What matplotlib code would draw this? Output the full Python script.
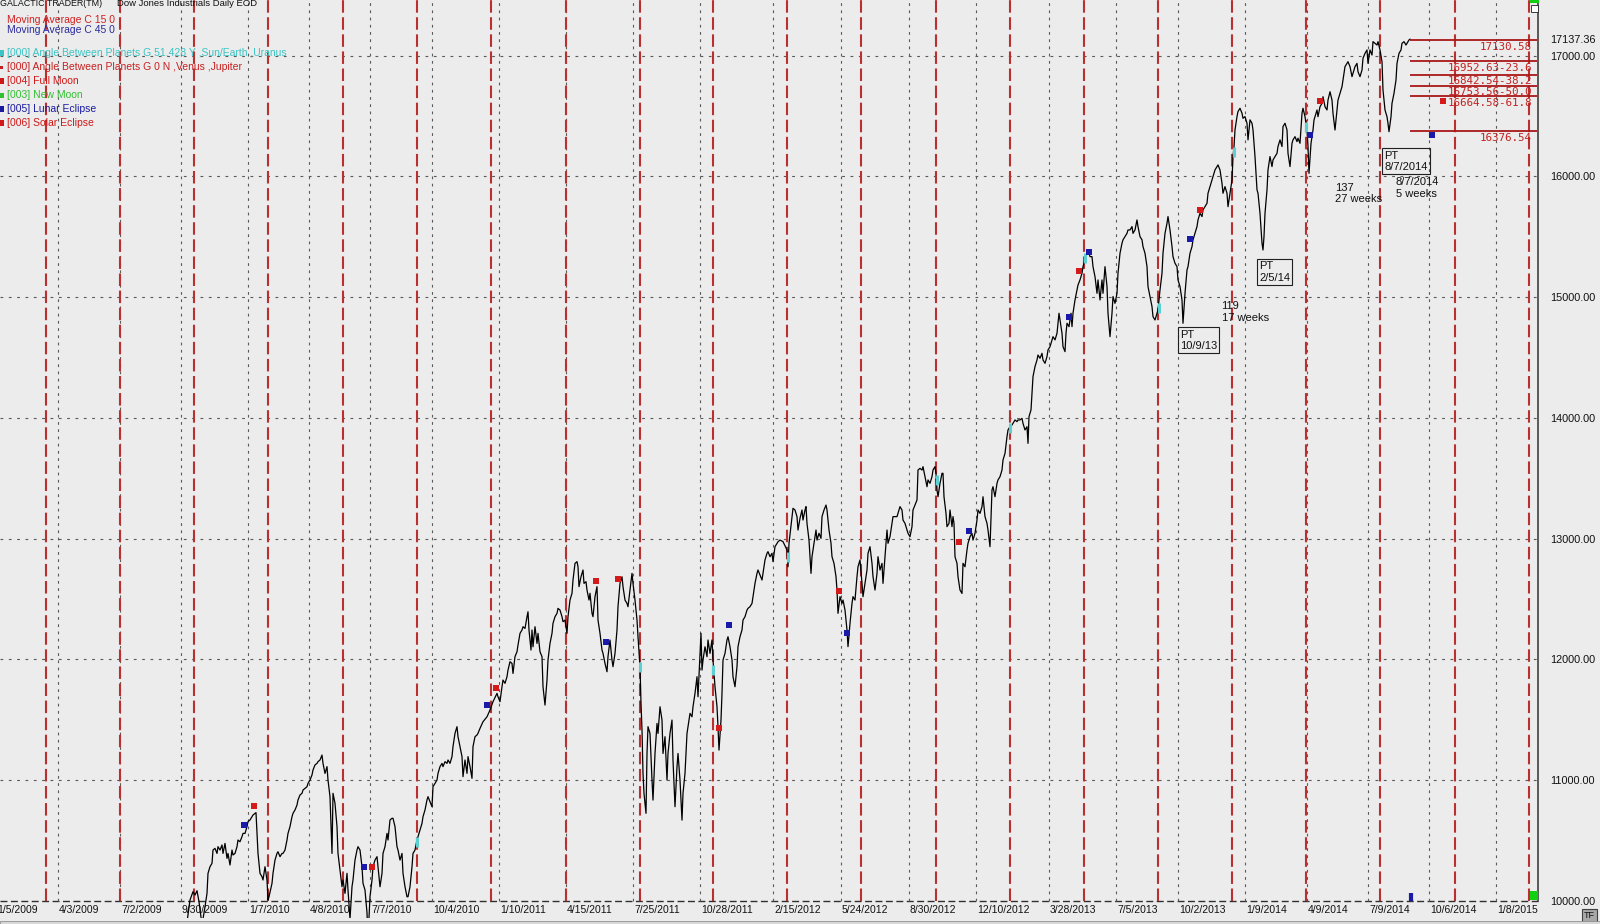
import matplotlib
matplotlib.use("Agg")
import matplotlib.pyplot as plt
from matplotlib.patches import Rectangle

plt.rcParams['font.family'] = ['Liberation Sans', 'DejaVu Sans']

W, H = 1600, 924
BG = '#ececec'

# daily closes, (bar, close)
closes_2009_2010 = [
    (185, 9700), (190, 10006), (193, 10075), (195, 10047), (197, 10083), (199, 9992), (202, 9800),
    (205, 9950), (207, 10061), (208, 10227), (210, 10282), (212, 10310), (213, 10420), (215, 10434),
    (217, 10392), (218, 10448), (220, 10420), (222, 10462), (223, 10392), (225, 10475), (227, 10351),
    (228, 10392), (230, 10296), (232, 10420), (233, 10379), (235, 10392), (237, 10448), (238, 10503),
    (240, 10489), (242, 10531), (243, 10558), (245, 10558), (247, 10614), (248, 10655), (250, 10669),
    (252, 10696), (253, 10710), (255, 10724), (256, 10730), (257, 10558), (258, 10392), (260, 10227),
    (262, 10199), (263, 10172), (265, 10282), (267, 10172), (268, 10006), (269, 10033), (272, 10144),
    (273, 10227), (275, 10337), (277, 10392), (278, 10406), (280, 10365), (282, 10392), (283, 10392),
    (285, 10420), (287, 10503), (288, 10558), (290, 10614), (292, 10696), (293, 10724), (295, 10752),
    (297, 10793), (298, 10835), (300, 10876), (302, 10890), (303, 10917), (305, 10931), (307, 10945),
    (308, 10972), (310, 11000), (312, 11042), (313, 11083), (315, 11125), (317, 11138), (318, 11152),
    (320, 11166), (322, 11207), (323, 11138), (325, 11055), (327, 11111), (328, 11000), (330, 10862),
    (332, 10392), (333, 10890), (335, 10807), (337, 10614), (338, 10392), (340, 10254), (342, 10116),
    (343, 10172), (345, 10061), (347, 10227), (348, 10089), (350, 9850), (352, 10116), (353, 10172),
    (355, 10337), (357, 10420), (358, 10448), (360, 10420), (362, 10282), (363, 10144), (365, 10089),
    (367, 9900), (368, 9690), (370, 10033), (372, 10172), (373, 10282), (375, 10337), (377, 10365),
    (378, 10282), (380, 10116), (382, 10227), (383, 10392), (385, 10448), (387, 10558), (388, 10503),
    (390, 10669), (392, 10683), (393, 10683), (395, 10614), (397, 10448), (398, 10420), (400, 10337),
    (402, 10392), (403, 10227), (405, 10116), (407, 10033), (408, 10033), (410, 10116), (412, 10282),
    (413, 10392), (415, 10420), (417, 10503), (418, 10531), (420, 10586), (422, 10641), (423, 10696),
    (425, 10752), (427, 10835), (428, 10862), (430, 10821), (432, 10779), (433, 10945), (435, 10972),
    (437, 11000), (438, 11055), (440, 11111), (442, 11138), (443, 11111), (445, 11152), (447, 11138),
    (448, 11166), (450, 11138), (452, 11194), (453, 11277), (455, 11387), (457, 11442), (458, 11359),
    (460, 11277), (462, 11194), (463, 11028), (465, 11166), (467, 11055), (468, 11194), (470, 11111),
    (472, 11014), (473, 11277), (475, 11359), (477, 11373), (478, 11387), (480, 11428),
]
closes_2011 = [
    (483, 11483), (487, 11524), (490, 11580), (493, 11649), (497, 11718), (498, 11690), (500, 11649),
    (502, 11773), (503, 11828), (505, 11801), (507, 11856), (508, 11911), (510, 11980), (512, 11966),
    (513, 11883), (515, 12022), (517, 12063), (518, 12118), (520, 12215), (522, 12243), (523, 12270),
    (525, 12256), (527, 12353), (528, 12394), (529, 12243), (531, 12077), (532, 12243), (533, 12104),
    (535, 12270), (537, 12132), (538, 12215), (540, 12063), (542, 12022), (543, 11773), (545, 11621),
    (547, 11828), (548, 11994), (550, 12132), (552, 12215), (553, 12298), (555, 12353), (557, 12381),
    (558, 12422), (560, 12408), (562, 12353), (563, 12312), (565, 12325), (567, 12215), (568, 12353),
    (570, 12491), (572, 12547), (573, 12657), (575, 12795), (577, 12809), (578, 12767), (579, 12602),
    (581, 12684), (583, 12740), (584, 12629), (586, 12643), (587, 12574), (589, 12491), (590, 12547),
    (592, 12381), (593, 12353), (595, 12519), (597, 12602), (598, 12325), (600, 12215), (602, 12077),
    (603, 12049), (605, 11966), (607, 11897), (608, 12022), (610, 12160), (612, 11994), (613, 11939),
    (615, 12049), (617, 12243), (618, 12436), (620, 12629), (622, 12684), (623, 12602), (625, 12491),
    (627, 12463), (628, 12436), (630, 12574), (632, 12712), (633, 12629), (635, 12491), (637, 12325),
    (638, 12187), (640, 11939), (641, 11635), (642, 11414), (643, 11055), (644, 10889), (646, 10724),
    (647, 11220), (648, 11442), (650, 11386), (652, 11000), (653, 10834), (655, 11220), (657, 11469),
    (658, 11386), (660, 11607), (662, 11497), (663, 11220), (665, 11359), (667, 11000), (668, 11220),
    (670, 11386), (672, 11497), (673, 11165), (675, 10779), (677, 11110), (678, 11220), (680, 11000),
    (682, 10668), (683, 10889), (685, 11055), (687, 11386), (688, 11442), (690, 11552), (692, 11524),
    (693, 11607), (695, 11718), (697, 11856), (698, 11690), (700, 12049), (701, 12215), (702, 11911),
    (703, 11994), (705, 12104), (707, 12022), (708, 12160), (710, 12049), (712, 12160), (713, 11994),
    (715, 11773), (717, 11607), (718, 11442), (719, 11248), (721, 11497), (722, 11718), (723, 11994),
    (725, 12049), (727, 12160), (728, 12187), (730, 12104), (732, 11994), (733, 11856), (735, 11773),
    (737, 11939), (738, 12104), (740, 12187), (742, 12243), (743, 12325), (745, 12353), (747, 12408),
    (748, 12422), (750, 12436), (752, 12463), (753, 12519), (755, 12629), (757, 12712), (758, 12740),
    (760, 12698), (762, 12657), (763, 12712), (765, 12823), (767, 12878), (768, 12892), (770, 12850),
    (772, 12878), (773, 12809), (775, 12933), (777, 12961), (778, 12974), (780, 12988),
]
closes_2012 = [
    (783, 12975), (787, 12906), (788, 12767), (789, 12961), (792, 13182), (793, 13251), (795, 13237),
    (797, 13182), (798, 13071), (800, 13168), (802, 13237), (803, 13154), (805, 13237), (806, 13265),
    (807, 13126), (809, 12988), (811, 12712), (812, 12850), (814, 12961), (816, 13071), (817, 12988),
    (819, 13044), (821, 13002), (822, 13182), (824, 13237), (826, 13278), (827, 13237), (829, 13071),
    (831, 12961), (832, 12850), (834, 12795), (836, 12685), (837, 12574), (838, 12381), (840, 12519),
    (842, 12464), (843, 12491), (845, 12408), (847, 12243), (848, 12105), (850, 12298), (852, 12464),
    (853, 12519), (855, 12491), (857, 12685), (858, 12767), (860, 12823), (862, 12629), (863, 12519),
    (865, 12629), (867, 12740), (868, 12878), (870, 12933), (872, 12795), (873, 12685), (875, 12574),
    (877, 12712), (878, 12850), (880, 12740), (882, 12795), (883, 12629), (885, 12850), (887, 13071),
    (888, 12961), (890, 13016), (892, 13126), (893, 13182), (895, 13182), (897, 13182), (898, 13209),
    (900, 13265), (902, 13237), (903, 13154), (905, 13126), (907, 13071), (908, 13044), (910, 13016),
    (912, 13099), (913, 13237), (915, 13278), (917, 13320), (918, 13568), (920, 13582), (922, 13568),
    (923, 13596), (925, 13513), (927, 13430), (928, 13486), (930, 13458), (932, 13513), (933, 13568),
    (935, 13596), (936, 13541), (937, 13403), (938, 13347), (940, 13458), (942, 13541), (943, 13541),
    (944, 13347), (946, 13209), (947, 13099), (949, 13126), (950, 13237), (952, 13099), (953, 13182),
    (954, 13126), (955, 12850), (957, 12795), (958, 12685), (960, 12574), (962, 12546), (963, 12795),
    (965, 12767), (967, 12906), (968, 12961), (970, 13016), (972, 13044), (973, 12988), (975, 13044),
    (977, 13154), (978, 13237), (980, 13209), (982, 13265), (983, 13347), (985, 13182), (987, 13126),
    (988, 13071), (990, 12933), (992, 13403), (993, 13430), (995, 13347), (997, 13458), (998, 13486),
    (1000, 13513), (1002, 13568), (1003, 13651), (1005, 13706), (1007, 13845), (1008, 13900),
    (1010, 13927), (1012, 13941), (1013, 13955), (1015, 13983), (1017, 13969), (1018, 13983),
    (1020, 13983), (1022, 13996), (1023, 13955), (1025, 13900), (1027, 13927), (1028, 13789),
    (1029, 14010), (1031, 14066),
]
closes_2013 = [
    (1033, 14342), (1035, 14425), (1037, 14480), (1038, 14521), (1040, 14494), (1042, 14535),
    (1043, 14480), (1045, 14452), (1047, 14508), (1048, 14563), (1050, 14590), (1052, 14646),
    (1053, 14673), (1055, 14646), (1057, 14701), (1058, 14784), (1059, 14867), (1061, 14756),
    (1062, 14701), (1063, 14590), (1065, 14549), (1066, 14701), (1067, 14784), (1069, 14756),
    (1071, 14867), (1072, 14756), (1073, 14867), (1075, 14977), (1077, 15060), (1078, 15101),
    (1080, 15143), (1082, 15198), (1083, 15253), (1085, 15308), (1087, 15364), (1088, 15391),
    (1090, 15336), (1092, 15336), (1093, 15253), (1095, 15170), (1097, 15032), (1098, 15143),
    (1100, 14977), (1102, 15143), (1103, 15032), (1105, 15253), (1107, 15088), (1108, 14867),
    (1110, 14673), (1112, 14867), (1113, 15005), (1115, 14949), (1117, 15032), (1118, 15198),
    (1120, 15364), (1122, 15447), (1123, 15475), (1125, 15502), (1127, 15529), (1128, 15557),
    (1130, 15557), (1132, 15585), (1133, 15529), (1135, 15557), (1137, 15640), (1138, 15585),
    (1140, 15502), (1142, 15475), (1143, 15419), (1145, 15364), (1147, 15253), (1148, 15088),
    (1150, 15005), (1152, 14922), (1153, 14839), (1155, 14811), (1157, 14867), (1158, 14894),
    (1160, 15060), (1162, 15198), (1163, 15364), (1165, 15529), (1167, 15612), (1168, 15668),
    (1170, 15557), (1172, 15419), (1173, 15336), (1175, 15281), (1177, 15253), (1178, 15143),
    (1180, 15088), (1182, 14977), (1183, 14784), (1185, 15032), (1187, 15226), (1188, 15253),
    (1190, 15364), (1192, 15419), (1193, 15475), (1195, 15529), (1197, 15585), (1198, 15640),
    (1200, 15695), (1202, 15668), (1203, 15723), (1205, 15750), (1207, 15778), (1208, 15861),
    (1210, 15916), (1212, 15971), (1213, 15999), (1215, 16054), (1217, 16082), (1218, 16096),
    (1220, 16054), (1222, 15944), (1223, 15861), (1225, 15916), (1227, 15861), (1228, 15750),
    (1230, 15861), (1232, 15971), (1233, 16165), (1234, 16248), (1235, 16386), (1237, 16496),
    (1238, 16538), (1240, 16565), (1242, 16524), (1243, 16482), (1245, 16496), (1247, 16441),
    (1248, 16303), (1250, 16469), (1252, 16441), (1253, 16386), (1255, 16165), (1257, 15889),
    (1258, 15861), (1260, 15695), (1262, 15447), (1263, 15391), (1264, 15502), (1265, 15695),
    (1267, 15889), (1268, 16054), (1270, 16165), (1272, 16082), (1273, 16137), (1275, 16165),
    (1277, 16192), (1278, 16248), (1280, 16303), (1282, 16248), (1283, 16413), (1285, 16441),
    (1287, 16386), (1288, 16192), (1290, 16082), (1292, 16275), (1293, 16303), (1295, 16330),
    (1297, 16289), (1298, 16317), (1300, 16275), (1302, 16524), (1303, 16565), (1305, 16496),
    (1307, 16386), (1308, 16248),
]
closes_2014 = [
    (1309, 16026), (1311, 16274), (1313, 16385), (1314, 16468), (1315, 16495), (1317, 16551),
    (1318, 16495), (1320, 16578), (1322, 16606), (1323, 16661), (1325, 16578), (1327, 16551),
    (1328, 16633), (1330, 16702), (1332, 16633), (1333, 16523), (1335, 16385), (1337, 16551),
    (1338, 16633), (1340, 16689), (1342, 16744), (1343, 16799), (1345, 16910), (1347, 16937),
    (1348, 16951), (1350, 16910), (1352, 16827), (1353, 16854), (1355, 16910), (1357, 16937),
    (1358, 16868), (1360, 16827), (1362, 16882), (1363, 16979), (1365, 17020), (1367, 17048),
    (1368, 16937), (1370, 17048), (1372, 17006), (1373, 17117), (1375, 17103), (1377, 17089),
    (1378, 17117), (1380, 17048), (1382, 16951), (1383, 16716), (1385, 16551), (1387, 16495),
    (1388, 16440), (1389, 16371), (1391, 16495), (1392, 16606), (1394, 16689), (1396, 16799),
    (1397, 16937), (1399, 17020), (1401, 17048), (1402, 17103), (1404, 17117), (1406, 17089),
    (1407, 17103), (1409, 17131), (1410, 17137.36),
]

date_ticks = [-4, 58, 120, 181, 248, 309, 370, 432, 499, 566, 633, 700, 773, 841, 909, 976,
              1049, 1116, 1178, 1245, 1307, 1368, 1429, 1496]
date_labels = ['1/5/2009', '4/3/2009', '7/2/2009', '9/30/2009', '1/7/2010', '4/8/2010', '7/7/2010',
               '10/4/2010', '1/10/2011', '4/15/2011', '7/25/2011', '10/28/2011', '2/15/2012',
               '5/24/2012', '8/30/2012', '12/10/2012', '3/28/2013', '7/5/2013', '10/2/2013',
               '1/9/2014', '4/9/2014', '7/9/2014', '10/6/2014', '1/8/2015']
price_levels = [10000, 11000, 12000, 13000, 14000, 15000, 16000, 17000]

# planetary angle cycle dates
cycle_bars = [46, 120, 194, 268, 343, 417, 491, 566, 640, 713, 787, 861, 936, 1010,
              1084, 1158, 1232, 1306, 1380, 1455, 1529]

angle_marks = [(417, 10489), (640, 11939), (713, 11911), (788, 12850), (937, 13486),
               (1010, 13914), (1085, 15322), (1159, 14914), (1234, 16206), (1306, 16412)]
red_marks = [(254, 10785), (372, 10277), (496, 11765), (596, 12646), (618, 12668), (719, 11428),
             (839, 12563), (959, 12972), (1079, 15217), (1200, 15720), (1320, 16628), (1443, 16628)]
blue_marks = [(244, 10627), (364, 10277), (487, 11620), (606, 12143), (729, 12281), (847, 12221),
              (969, 13060), (1069, 14839), (1089, 15378), (1190, 15480), (1310, 16341), (1432, 16341)]
blue_tick = [(1411, 10030)]

fib_levels = [17130.58, 16952.63, 16842.54, 16753.56, 16664.58, 16376.54]
fib_labels = ['17130.58', '16952.63-23.6', '16842.54-38.2', '16753.56-50.0', '16664.58-61.8', '16376.54']

legend_labels = ['[000] Angle Between Planets G 51.428 Y ,Sun/Earth ,Uranus',
                 '[000] Angle Between Planets G 0 N ,Venus ,Jupiter',
                 '[004] Full Moon', '[003] New Moon', '[005] Lunar Eclipse', '[006] Solar Eclipse']
legend_colors = ['#3cc4c4', '#c82020', '#d01818', '#30c030', '#1a1aa0', '#d01818']

notes = [(1180, 14732, 'PT\n10/9/13', True), (1259, 15296, 'PT\n2/5/14', True),
         (1384.5, 16215, 'PT\n8/7/2014', True), (1221.5, 14968, '119\n17 weeks', False),
         (1335, 15950, '137\n27 weeks', False), (1396, 15995, '8/7/2014\n5 weeks', False)]


def fx(x):
    return x / W


def fy(y):
    return 1 - y / H


fig = plt.figure(figsize=(W / 100, H / 100), dpi=100, facecolor=BG)
ax = fig.add_axes([0, 6 / H, 1540 / W, 918 / H])
ax.set_facecolor(BG)
ax.set_xlim(0, 1540)
ax.set_ylim(9857, 17462)
for s in ax.spines.values():
    s.set_visible(False)

ymax = 17462
# grid
ax.hlines(price_levels[1:], 0, 1540, colors='#5a5a5a', lw=0.8, linestyles=(0, (2.5, 5)), zorder=1)
ax.hlines(10000, 0, 1540, colors='#303030', lw=1.0, linestyles=(0, (5, 2.5)), zorder=1)
ax.vlines(date_ticks, 10000, ymax, colors='#5a5a5a', lw=0.8, linestyles=(0, (2.5, 4)), zorder=1)
ax.vlines(cycle_bars, 10000, ymax, colors='#b83030', lw=1.5, linestyles=(0, (6, 2.2)), zorder=2)
ax.vlines(1538, 10000, ymax, colors='#404040', lw=1.2, zorder=3)

segments = (closes_2009_2010, closes_2011, closes_2012, closes_2013, closes_2014)
bars = [b for seg in segments for b, _ in seg]
vals = [v for seg in segments for _, v in seg]
ax.plot(bars, vals, color='black', lw=0.9, zorder=4)

ax.plot([b for b, _ in angle_marks], [v for _, v in angle_marks], '|', color='#5cd0d0',
        ms=7, mew=2.2, zorder=5)
ax.plot([b for b, _ in red_marks], [v for _, v in red_marks], 's', color='#d41a1a',
        ms=4.4, mew=0, zorder=6)
ax.plot([b for b, _ in blue_marks], [v for _, v in blue_marks], 's', color='#1a1aa8',
        ms=4.4, mew=0, zorder=6)
ax.plot([b for b, _ in blue_tick], [v for _, v in blue_tick], '|', color='#1a1aa8',
        ms=6, mew=3, zorder=6)

# fibonacci retracement from the 8/7/2014 low
last_bar = bars[-1]
for lvl, lab in zip(fib_levels, fib_labels):
    ax.hlines(lvl, last_bar, 1537, colors='#a81818', lw=1.3, zorder=5)
    ax.annotate(lab, xy=(1532, lvl), xytext=(0, -1.2), textcoords='offset points',
                ha='right', va='top', fontsize=7.8, color='#c42020',
                family='DejaVu Sans Mono', zorder=6)

for x, y, txt, boxed in notes:
    kw = {}
    if boxed:
        kw['bbox'] = dict(boxstyle='square,pad=0.2', fc='none', ec='#202020', lw=0.8)
    ax.text(x, y, txt, ha='left', va='top', fontsize=8, linespacing=1.2, color='#111111',
            zorder=7, **kw)

# date labels along the bottom
tr = ax.get_xaxis_transform()
for t, lab in zip(date_ticks, date_labels):
    ax.text(t + 1, 0.0087, lab, transform=tr, ha='left', va='center', fontsize=7.5,
            color='#111111', clip_on=False)

# price axis on the right
ax.yaxis.tick_right()
ax.set_yticks(price_levels + [vals[-1]])
ax.set_yticklabels(['%.2f' % v for v in price_levels + [vals[-1]]])
ax.tick_params(axis='y', length=0, pad=7, labelsize=7.8, labelcolor='#111111')
ax.set_xticks([])

# header and legend
fig.text(fx(0), fy(4), 'GALACTIC TRADER(TM)', fontsize=6.4, va='center', ha='left', color='#111111')
fig.text(fx(117), fy(4), 'Dow Jones Industrials Daily EOD', fontsize=6.8, va='center', ha='left',
         color='#111111')
fig.text(fx(7), fy(20), 'Moving Average C 15 0', fontsize=7.5, va='center', color='#d02020')
fig.text(fx(7), fy(30), 'Moving Average C 45 0', fontsize=7.5, va='center', color='#2a2aa0')
leg_y = [53, 67.5, 81, 95.5, 109, 123]
for i, (yy, lab, col) in enumerate(zip(leg_y, legend_labels, legend_colors)):
    fig.text(fx(7), fy(yy), lab, fontsize=7.5, va='center', color=col)
    sw = 2.5 if i == 1 else 4
    fig.add_artist(Rectangle((fx(0), fy(yy + sw / 2 + 0.5)), sw / W, (sw + 1) / H,
                             transform=fig.transFigure, fc=col, ec='none'))

# small platform widgets
fig.add_artist(Rectangle((fx(1530), fy(3)), 9 / W, 3 / H, transform=fig.transFigure,
                         fc='#10d010', ec='none'))
fig.add_artist(Rectangle((fx(1531), fy(12)), 7 / W, 7 / H, transform=fig.transFigure,
                         fc='white', ec='#202020', lw=0.6))
fig.add_artist(Rectangle((fx(1530), fy(900)), 8 / W, 9 / H, transform=fig.transFigure,
                         fc='#10d010', ec='none'))
fig.add_artist(Rectangle((fx(1582), fy(923)), 15 / W, 14 / H, transform=fig.transFigure,
                         fc='#a8a8a8', ec='#404040', lw=0.8))
fig.text(fx(1589.5), fy(916), 'TF', fontsize=6.5, ha='center', va='center', color='#111111')
fig.add_artist(Rectangle((0, 0), 1, 3 / H, transform=fig.transFigure, fc='#d8d8d8',
                         ec='#909090', lw=0.6))

fig.savefig('out.png', dpi=100, facecolor=BG)
